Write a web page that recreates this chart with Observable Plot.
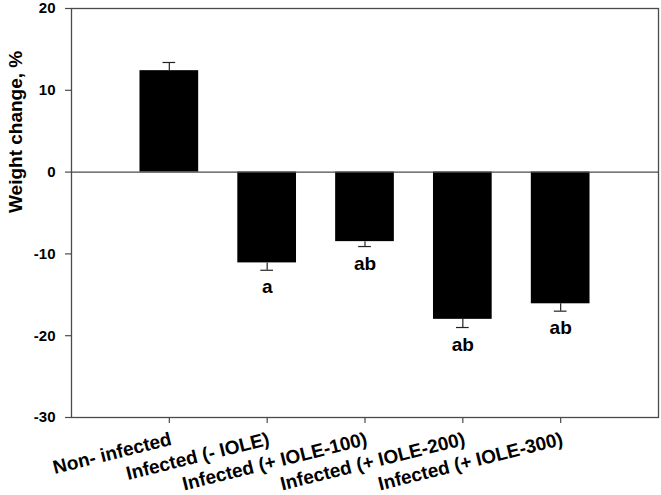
<!DOCTYPE html>
<html>
<head>
<meta charset="utf-8">
<script src="https://cdn.jsdelivr.net/npm/d3@7"></script>
<script src="https://cdn.jsdelivr.net/npm/@observablehq/plot@0.6"></script>
<style>
  html, body { margin: 0; padding: 0; background: #fff; }
  #chart svg { display: block; }
</style>
</head>
<body>
<div id="chart"></div>
<script>
const categories = ["Non- infected", "Infected (- IOLE)", "Infected (+ IOLE-100)", "Infected (+ IOLE-200)", "Infected (+ IOLE-300)"];
const values = [12.4, -11.1, -8.5, -18.0, -16.1];
const errors = [1.0, 0.9, 0.6, 1.0, 0.9];
const letters = ["", "a", "ab", "ab", "ab"];
const yTicks = [-30, -20, -10, 0, 10, 20];
const yLabel = "Weight change, %";

const data = categories.map((c, i) => ({
  pos: i + 1, name: c, value: values[i], err: errors[i], letter: letters[i],
  end: values[i] >= 0 ? values[i] + errors[i] : values[i] - errors[i]
}));

const font = "'Liberation Sans', Arial, Helvetica, sans-serif";
const axisColor = "#4a4a4a";
const halfBar = 0.3, halfCap = 0.065;

const chart = Plot.plot({
  width: 661,
  height: 495,
  marginLeft: 71,
  marginRight: 3,
  marginTop: 8,
  marginBottom: 78,
  style: { fontFamily: font, background: "#fff" },
  x: { type: "linear", domain: [0, 6], axis: null },
  y: { domain: [-30, 20], axis: null },
  marks: [
    Plot.rectY(data, { x1: d => d.pos - halfBar, x2: d => d.pos + halfBar, y1: 0, y2: "value", fill: "#000" }),
    Plot.ruleX(data, { x: "pos", y1: "value", y2: "end", stroke: "#222", strokeWidth: 1.2 }),
    Plot.ruleY(data, { x1: d => d.pos - halfCap, x2: d => d.pos + halfCap, y: "end", stroke: "#222", strokeWidth: 1.2 }),
    Plot.ruleY([0], { stroke: axisColor, strokeWidth: 1.2 }),
    Plot.frame({ stroke: axisColor, strokeWidth: 1.3 }),
    Plot.axisY({ ticks: yTicks, tickSize: 6, tickPadding: 10, tickFormat: d => String(d), fontSize: 15, fontWeight: "bold", stroke: axisColor, color: "#000", label: null, strokeWidth: 1.2 }),
    Plot.axisX({ ticks: data.map(d => d.pos), tickSize: 6, tickFormat: () => "", stroke: axisColor, label: null, strokeWidth: 1.2 }),
    Plot.text(data, { x: "pos", frameAnchor: "bottom", dy: 14, text: "name", textAnchor: "end", lineAnchor: "top", rotate: -14, fontSize: 19, fontWeight: "bold", fill: "#000" }),
    Plot.text(data, { x: "pos", y: "end", dy: 17, text: "letter", lineAnchor: "middle", fontSize: 19, fontWeight: "bold", fill: "#000" }),
    Plot.text([yLabel], { frameAnchor: "left", dx: -56, rotate: -90, text: d => d, fontSize: 19, fontWeight: "bold", fill: "#000" })
  ]
});
document.getElementById("chart").appendChild(chart);
</script>
</body>
</html>
